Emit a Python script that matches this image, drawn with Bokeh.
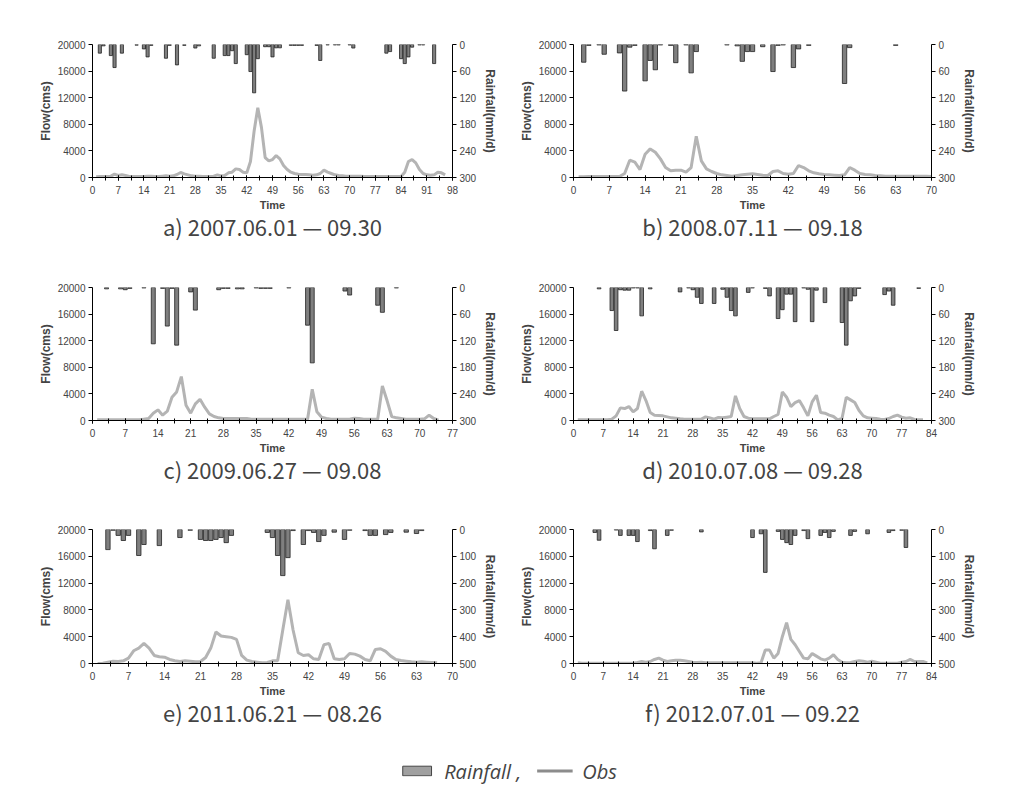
from bokeh.plotting import figure
from bokeh.models import (Range1d, LinearAxis, FixedTicker, SingleIntervalTicker,
                          NumeralTickFormatter, Title, Legend, LegendItem)
from bokeh.layouts import column, row
from bokeh.embed import file_html
from bokeh.resources import INLINE

# ---------------- data ----------------
titles = ["a) 2007.06.01 \u2014 09.30", "b) 2008.07.11 \u2014 09.18",
          "c) 2009.06.27 \u2014 09.08", "d) 2010.07.08 \u2014 09.28",
          "e) 2011.06.21 \u2014 08.26", "f) 2012.07.01 \u2014 09.22"]
x_max = [98, 70, 77, 84, 70, 84]
rain_max = [300, 300, 300, 300, 500, 500]
rain_step = [60, 60, 60, 60, 100, 100]
flow_ticks = [0, 4000, 8000, 12000, 16000, 20000]
legend_labels = ["Rainfall ,", "Obs"]

# panel a
rain_a_day = [2, 3, 5, 6, 8, 12, 14, 15, 16, 20, 21, 23, 25, 28, 29, 33, 36, 37, 38, 39,
              42, 43, 44, 45, 47, 48, 49, 50, 51, 54, 55, 56, 57, 61, 62, 64, 66, 67, 70, 71,
              80, 81, 84, 85, 86, 87, 89, 90, 93]
rain_a_mm = [19.5, 3, 25, 52, 19.5, 1.5, 10, 28, 2, 31, 2, 46, 2, 8, 3, 31, 25, 25, 14, 43,
             23, 61, 109, 32, 5, 5, 28, 7.5, 7.5, 2, 2, 2, 2, 2, 36, 1, 1, 1, 1, 8,
             19.5, 16, 32, 43, 28, 6, 1, 1, 43]
flow_a = [100, 150, 150, 150, 200, 500, 300, 400, 300, 150,
          150, 150, 150, 150, 200, 200, 150, 150, 200, 250,
          200, 250, 450, 750, 550, 400, 250, 200, 200, 150,
          150, 150, 200, 400, 250, 300, 700, 800, 1300, 1200,
          800, 700, 2400, 7000, 10500, 7500, 3000, 2500, 2700, 3300,
          2800, 1800, 1200, 800, 600, 500, 450, 450, 400, 350,
          400, 600, 1100, 800, 600, 400, 300, 250, 200, 200,
          200, 200, 200, 150, 150, 150, 150, 150, 150, 150,
          150, 150, 150, 150, 800, 2400, 2700, 2200, 1200, 600,
          400, 350, 400, 800, 700, 400]

# panel b
rain_b_day = [2, 3, 5, 6, 9, 10, 11, 12, 14, 15, 16, 17, 19, 20, 22, 23, 24, 30, 32, 33,
              34, 35, 37, 39, 40, 41, 43, 44, 46, 53, 54, 63]
rain_b_mm = [40, 2, 1, 22, 19, 105, 6, 2, 82, 36, 57, 1, 2, 41, 1, 64, 16, 1, 3, 38,
             16, 16, 5, 61, 2, 1, 52, 10, 2, 88, 7, 2]
flow_b = [100, 100, 150, 150, 150, 150, 150, 150, 150, 600,
          2600, 2300, 1200, 3500, 4300, 3800, 2800, 1500, 1000, 1100,
          1100, 800, 1500, 6200, 2500, 1300, 900, 600, 400, 300,
          200, 300, 400, 500, 550, 450, 350, 300, 900, 1000,
          600, 500, 600, 1800, 1500, 1000, 700, 550, 450, 400,
          350, 300, 400, 1500, 1100, 600, 450, 400, 300, 250,
          200, 200, 200, 200, 200, 200, 200, 200, 200, 150]

# panel c
rain_c_day = [3, 6, 7, 8, 11, 13, 15, 16, 17, 18, 21, 22, 27, 28, 29, 31, 32, 35, 36, 37,
              38, 42, 46, 47, 54, 55, 61, 62, 65]
rain_c_mm = [3, 3, 5, 2, 1, 127, 2, 87, 2, 130, 10, 51, 5, 2, 2, 3, 3, 1, 2, 2,
             2, 1, 85, 170, 8, 17, 40, 56, 1]
flow_c = [100, 100, 100, 100, 100, 100, 100, 100, 100, 100,
          200, 300, 1100, 1600, 800, 1400, 3500, 4300, 6600, 2300,
          1100, 2500, 3200, 2000, 1000, 600, 400, 300, 300, 300,
          300, 300, 300, 200, 200, 200, 200, 200, 200, 200,
          200, 200, 200, 200, 200, 200, 4700, 1300, 500, 300,
          200, 200, 200, 200, 200, 350, 300, 200, 200, 200,
          200, 5200, 3000, 600, 400, 300, 200, 200, 200, 200,
          250, 800, 300, 50]

# panel d
rain_d_day = [6, 9, 10, 11, 12, 13, 14, 15, 16, 18, 25, 27, 28, 29, 30, 33, 35, 36, 37, 38,
              41, 42, 45, 46, 48, 49, 50, 51, 52, 54, 55, 56, 57, 59, 63, 64, 65, 66, 67, 73,
              74, 75, 81]
rain_d_mm = [3, 52, 97, 5, 6, 6, 1, 1, 64, 3, 10, 1, 5, 22, 36, 36, 4, 22, 52, 64,
             11, 1, 2, 19, 70, 50, 15, 15, 77, 1, 4, 77, 6, 34, 79, 130, 30, 19, 2, 16,
             8, 40, 2]
flow_d = [100, 100, 100, 100, 100, 100, 100, 100, 200, 700,
          1900, 1800, 2100, 1300, 1800, 4400, 3000, 1200, 800, 750,
          700, 550, 400, 350, 250, 200, 200, 200, 200, 200,
          550, 400, 200, 450, 400, 500, 600, 3700, 1800, 600,
          350, 250, 250, 250, 250, 250, 600, 900, 4300, 3500,
          2100, 2700, 3000, 1900, 700, 2800, 3800, 1200, 1100, 800,
          600, 100, 300, 3500, 3100, 2700, 1500, 700, 400, 350,
          300, 200, 150, 300, 600, 800, 500, 350, 400, 150,
          100, 100]

# panel e
rain_e_day = [3, 4, 5, 6, 7, 9, 10, 13, 17, 19, 21, 22, 23, 24, 25, 26, 27, 34, 35, 36,
              37, 38, 39, 41, 42, 43, 44, 45, 47, 49, 50, 53, 54, 55, 57, 58, 61, 63, 64]
rain_e_mm = [75, 3, 22, 41, 22, 97, 56, 60, 30, 3, 37, 41, 41, 37, 30, 49, 22, 11, 30, 97,
             172, 105, 4, 56, 4, 11, 45, 22, 10, 37, 3, 4, 22, 22, 19, 11, 10, 15, 4]
flow_e = [0, 50, 200, 350, 300, 400, 800, 1900, 2300, 3000,
          2300, 1200, 1000, 950, 600, 400, 300, 400, 350, 250,
          300, 900, 2300, 4700, 4100, 4000, 3900, 3600, 1200, 500,
          300, 200, 100, 150, 400, 400, 5000, 9500, 5000, 1600,
          1200, 1300, 700, 600, 2800, 3000, 700, 600, 700, 1500,
          1400, 1100, 600, 400, 2100, 2200, 1800, 1100, 600, 450,
          350, 250, 200, 250, 200, 150, 100]

# panel f
rain_f_day = [5, 6, 10, 11, 13, 14, 15, 18, 19, 22, 23, 30, 42, 44, 45, 48, 49, 50, 51, 52,
              54, 55, 58, 59, 60, 61, 65, 66, 69, 74, 75, 77, 78]
rain_f_mm = [11, 40, 2, 22, 22, 22, 45, 4, 72, 22, 3, 9, 30, 16, 160, 7, 37, 49, 56, 22,
             4, 34, 22, 11, 30, 7, 22, 7, 16, 11, 4, 3, 67]
flow_f = [100, 50, 50, 50, 50, 50, 50, 50, 50, 50,
          50, 50, 50, 50, 150, 300, 200, 300, 600, 800,
          500, 300, 400, 500, 500, 400, 300, 200, 150, 200,
          100, 100, 100, 100, 100, 100, 100, 100, 100, 100,
          100, 100, 50, 100, 2000, 2000, 800, 1500, 4000, 6100,
          3600, 2800, 1800, 800, 700, 1500, 1100, 700, 500, 800,
          1300, 600, 200, 100, 150, 300, 400, 350, 200, 350,
          200, 50, 50, 50, 50, 50, 200, 300, 600, 300,
          300, 300, 100]

flows = [flow_a, flow_b, flow_c, flow_d, flow_e, flow_f]
rain_days = [rain_a_day, rain_b_day, rain_c_day, rain_d_day, rain_e_day, rain_f_day]
rain_vals = [rain_a_mm, rain_b_mm, rain_c_mm, rain_d_mm, rain_e_mm, rain_f_mm]

# ---------------- styling ----------------
TICK_FONT = "Liberation Sans"
TITLE_FONT = "Noto Sans CJK KR"
BAR_FILL = "#7f7f7f"
LINE_COL = "#b4b4b4"


def make_panel(i, width, height, bl, br, bt, bb):
    p = figure(width=width, height=height, output_backend="svg", toolbar_location=None,
               x_range=Range1d(0, x_max[i]), y_range=Range1d(0, 20000),
               min_border_left=bl, min_border_right=br,
               min_border_top=bt, min_border_bottom=bb)
    p.title.visible = False
    p.extra_y_ranges = {"rain": Range1d(rain_max[i], 0)}
    p.xgrid.visible = False
    p.ygrid.visible = False
    p.outline_line_color = None
    p.background_fill_color = "white"
    p.border_fill_color = "white"

    p.vbar(x=rain_days[i], top=0, bottom=rain_vals[i], width=0.85,
           y_range_name="rain", fill_color=BAR_FILL, line_color="#222222", line_width=0.8)
    t = list(range(1, len(flows[i]) + 1))
    p.line(t, flows[i], line_color=LINE_COL, line_width=3)

    xa = p.xaxis[0]
    xa.ticker = SingleIntervalTicker(interval=7, num_minor_ticks=2)
    xa.axis_label = "Time"
    xa.axis_label_text_font = TICK_FONT
    xa.axis_label_text_font_style = "bold"
    xa.axis_label_text_font_size = "11px"
    xa.axis_label_standoff = 2
    xa.major_label_text_font = TICK_FONT
    xa.major_label_text_font_size = "10px"
    xa.major_label_standoff = 5
    xa.major_tick_in = 2
    xa.major_tick_out = 3
    xa.minor_tick_in = 2
    xa.minor_tick_out = 3
    xa.minor_tick_line_color = "black"

    ya = p.yaxis[0]
    ya.ticker = FixedTicker(ticks=flow_ticks)
    ya.formatter = NumeralTickFormatter(format="0")
    ya.axis_label = "Flow(cms)"
    ya.axis_label_text_font = TICK_FONT
    ya.axis_label_text_font_style = "bold"
    ya.axis_label_text_font_size = "12px"
    ya.axis_label_standoff = 2
    ya.major_label_text_font = TICK_FONT
    ya.major_label_text_font_size = "10px"
    ya.major_label_standoff = 3
    ya.major_tick_in = 0
    ya.major_tick_out = 4
    ya.minor_tick_line_color = None

    ra = LinearAxis(y_range_name="rain",
                    ticker=FixedTicker(ticks=list(range(0, rain_max[i] + 1, rain_step[i]))),
                    axis_label="Rainfall(mm/d)")
    ra.axis_label_text_font = TICK_FONT
    ra.axis_label_text_font_style = "bold"
    ra.axis_label_text_font_size = "12px"
    ra.axis_label_standoff = 4
    ra.major_label_text_font = TICK_FONT
    ra.major_label_text_font_size = "10px"
    ra.major_label_standoff = 3
    ra.major_tick_in = 0
    ra.major_tick_out = 4
    ra.minor_tick_line_color = None
    p.add_layout(ra, "right")

    ttl = Title(text=titles[i], align="center", vertical_align="top",
                text_font=TITLE_FONT, text_font_size="22px",
                text_font_style="normal", standoff=-8)
    p.add_layout(ttl, "below")
    return p


panels = []
for i in range(6):
    left = (i % 2 == 0)
    w = 507 if left else 508
    bl = 92 if left else 66
    br = 55 if left else 84
    bt = 43 if i >= 4 else 44
    panels.append(make_panel(i, w, 243, bl, br, bt, 66))

# legend strip (hidden sample renderers used only for the legend glyphs)
fl = figure(width=1015, height=69, output_backend="svg", toolbar_location=None,
            x_range=Range1d(0, 1), y_range=Range1d(0, 1),
            min_border_left=0, min_border_right=0, min_border_top=14, min_border_bottom=0)
fl.title.visible = False
fl.axis.visible = False
fl.xgrid.visible = False
fl.ygrid.visible = False
fl.outline_line_color = None
r1 = fl.vbar(x=[0.5], top=[0.5], width=0.1, fill_color="#a0a0a0", line_color="#444444",
             line_width=1)
r2 = fl.line(x=[0.4, 0.6], y=[0.5, 0.5], line_color="#8c8c8c", line_width=3)
r1.visible = False
r2.visible = False
leg = Legend(items=[LegendItem(label=legend_labels[0], renderers=[r1]),
                    LegendItem(label=legend_labels[1], renderers=[r2])],
             orientation="horizontal", location="center",
             glyph_width=36, glyph_height=12, label_standoff=10, spacing=15,
             label_text_font="Open Sans", label_text_font_style="italic",
             label_text_font_size="20px", border_line_color=None,
             background_fill_alpha=0, inactive_fill_alpha=0, padding=0, margin=0)
fl.add_layout(leg)

layout = column(row(panels[0], panels[1]), row(panels[2], panels[3]),
                row(panels[4], panels[5]), fl)

open("out.html", "w").write(file_html(layout, INLINE))
